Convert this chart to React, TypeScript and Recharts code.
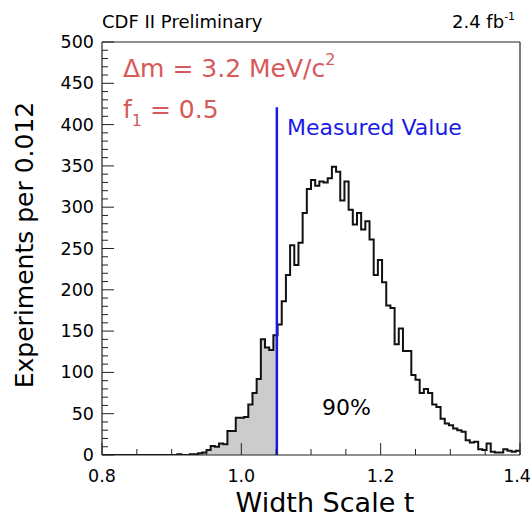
import { ComposedChart, Area, Line, XAxis, YAxis, ReferenceLine } from 'recharts'

// histogram: 100 bins of 0.006 starting at 0.8
const binStart = 0.8
const binWidth = 0.006
const counts = [
  0, 0, 0, 0, 0, 0, 0, 0, 0, 0,
  0, 0, 0, 0, 0, 0, 0, 0, 1, 0,
  0, 1, 1, 2, 3, 6, 11, 10, 14, 13,
  29, 29, 45, 45, 46, 61, 75, 92, 140, 130,
  127, 145, 158, 186, 218, 254, 230, 257, 293, 322,
  333, 326, 331, 330, 335, 349, 343, 308, 331, 297,
  279, 293, 273, 283, 261, 218, 236, 209, 181, 178,
  134, 153, 126, 126, 97, 91, 75, 80, 75, 61,
  58, 44, 38, 36, 32, 30, 28, 18, 15, 16,
  7, 6, 14, 4, 3, 3, 7, 5, 4, 5,
]
const measuredValue = 1.051
const measuredLineTop = 421

const xLabels = [0.8, 1.0, 1.2, 1.4]
const yLabels = [0, 50, 100, 150, 200, 250, 300, 350, 400, 450, 500]
const xTicks = Array.from({ length: 13 }, (_, i) => +(0.8 + i * 0.05).toFixed(2))
const yTicks = Array.from({ length: 51 }, (_, i) => i * 10)

const FONT = '"DejaVu Sans", sans-serif'

type Pt = { x: number; count: number; shade: number | null }

function buildData(): Pt[] {
  const pts: Pt[] = []
  counts.forEach((c, i) => {
    const x = +(binStart + i * binWidth).toFixed(3)
    const next = +(binStart + (i + 1) * binWidth).toFixed(3)
    pts.push({ x, count: c, shade: x <= measuredValue ? c : null })
    if (x < measuredValue && next > measuredValue) {
      pts.push({ x: measuredValue, count: c, shade: c })
    }
  })
  pts.push({ x: 1.4, count: counts[counts.length - 1], shade: null })
  return pts
}

const data = buildData()

function XTick(props: any) {
  const { x, y, payload } = props
  const major = xLabels.some((v) => Math.abs(v - payload.value) < 1e-6)
  const last = Math.abs(payload.value - 1.4) < 1e-6
  return (
    <g>
      <line x1={x} y1={y} x2={x} y2={y - (major ? 12 : 6)} stroke="#222" strokeWidth={1} />
      {major && (
        <text
          x={last ? x + 11 : x}
          y={y + 27}
          textAnchor={last ? 'end' : 'middle'}
          fontSize={17.5}
          fontFamily={FONT}
          fill="#000"
        >
          {payload.value.toFixed(1)}
        </text>
      )}
    </g>
  )
}

function YTick(props: any) {
  const { x, y, payload } = props
  const major = yLabels.includes(payload.value)
  return (
    <g>
      <line x1={x} y1={y} x2={x + (major ? 12 : 6)} y2={y} stroke="#222" strokeWidth={1} />
      {major && (
        <text x={x - 8} y={y + 6} textAnchor="end" fontSize={17.5} fontFamily={FONT} fill="#000">
          {payload.value}
        </text>
      )}
    </g>
  )
}

export default function App() {
  return (
    <div style={{ position: 'absolute', left: 0, top: 0, width: 532, height: 521, background: '#fff' }}>
      <ComposedChart
        width={532}
        height={521}
        data={data}
        margin={{ top: 42, right: 12, left: 0, bottom: 0 }}
      >
        <XAxis
          type="number"
          dataKey="x"
          domain={[0.8, 1.4]}
          ticks={xTicks}
          interval={0}
          tickSize={0}
          tickMargin={0}
          tick={<XTick />}
          height={66}
          axisLine={{ stroke: '#222', strokeWidth: 1.2 }}
          allowDataOverflow
        />
        <YAxis
          type="number"
          domain={[0, 500]}
          ticks={yTicks}
          interval={0}
          tickSize={0}
          tickMargin={0}
          tick={<YTick />}
          width={102}
          axisLine={{ stroke: '#222', strokeWidth: 1.2 }}
          allowDataOverflow
        />
        <Area
          type="stepAfter"
          dataKey="shade"
          fill="#cccccc"
          fillOpacity={1}
          stroke="none"
          baseValue={0}
          isAnimationActive={false}
        />
        <Line
          type="stepAfter"
          dataKey="count"
          stroke="#111"
          strokeWidth={2}
          dot={false}
          isAnimationActive={false}
        />
        <ReferenceLine
          segment={[
            { x: measuredValue, y: 0 },
            { x: measuredValue, y: measuredLineTop },
          ]}
          stroke="#1a1ae6"
          strokeWidth={2.5}
        />
        <ReferenceLine y={500} stroke="#222" strokeWidth={1.2} />
        <ReferenceLine x={1.4} stroke="#222" strokeWidth={1.2} />
      </ComposedChart>

      <svg
        width={532}
        height={521}
        style={{ position: 'absolute', left: 0, top: 0, pointerEvents: 'none' }}
        fontFamily={FONT}
      >
        <text x={102} y={28} fontSize={18} fill="#000">CDF II Preliminary</text>
        <text x={452} y={28} fontSize={18} fill="#000">
          2.4 fb<tspan dy={-8} fontSize={11}>-1</tspan>
        </text>
        <text x={123} y={77} fontSize={25} fill="#d65a5a">
          Δm = 3.2 MeV/c<tspan dy={-12} fontSize={16}>2</tspan>
        </text>
        <text x={123} y={118} fontSize={25} fill="#d65a5a">
          f<tspan dy={8} fontSize={16}>1</tspan>
          <tspan dy={-8}> = 0.5</tspan>
        </text>
        <text x={287} y={135} fontSize={22} fill="#1a1ae6">Measured Value</text>
        <text x={322} y={415} fontSize={22} fill="#000">90%</text>
        <text x={325} y={512} fontSize={27} textAnchor="middle" fill="#000">Width Scale t</text>
        <text
          x={0}
          y={0}
          fontSize={25}
          textAnchor="middle"
          fill="#000"
          transform="translate(33,245) rotate(-90)"
        >
          Experiments per 0.012
        </text>
      </svg>
    </div>
  )
}
